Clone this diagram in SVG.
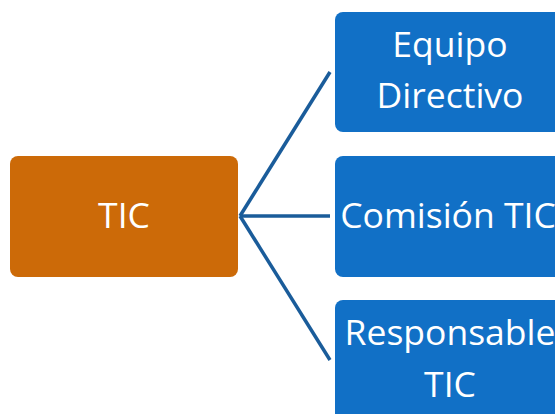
<svg xmlns="http://www.w3.org/2000/svg" width="555" height="414" viewBox="0 0 555 414">
<style>
.orange{fill:#CC6A08;}
.blue{fill:#1170C6;}
.t{fill:#ffffff;font-family:"Open Sans","Noto Sans",sans-serif;font-size:35.5px;text-anchor:middle;}
.c{stroke:#1A5C9A;stroke-width:3.5;fill:none;}
</style>
<rect width="555" height="414" fill="#ffffff"/>
<g id="connectors">
<line class="c" x1="240" y1="216" x2="330" y2="72"/>
<line class="c" x1="240" y1="216" x2="330" y2="216"/>
<line class="c" x1="240" y1="216" x2="330" y2="360"/>
</g>
<g id="node-tic">
<rect class="orange" x="10" y="156" width="228" height="121" rx="8"/>
<text class="t" x="124" y="228">TIC</text>
</g>
<g id="node-equipo">
<rect class="blue" x="335" y="12" width="230" height="120" rx="8"/>
<text class="t" x="450" y="57">Equipo</text>
<text class="t" x="450" y="108">Directivo</text>
</g>
<g id="node-comision">
<rect class="blue" x="335" y="156" width="230" height="121" rx="8"/>
<text class="t" x="448" y="228">Comisión TIC</text>
</g>
<g id="node-responsable">
<rect class="blue" x="335" y="300" width="230" height="130" rx="8"/>
<text class="t" x="450" y="345">Responsable</text>
<text class="t" x="450" y="397">TIC</text>
</g>
</svg>
